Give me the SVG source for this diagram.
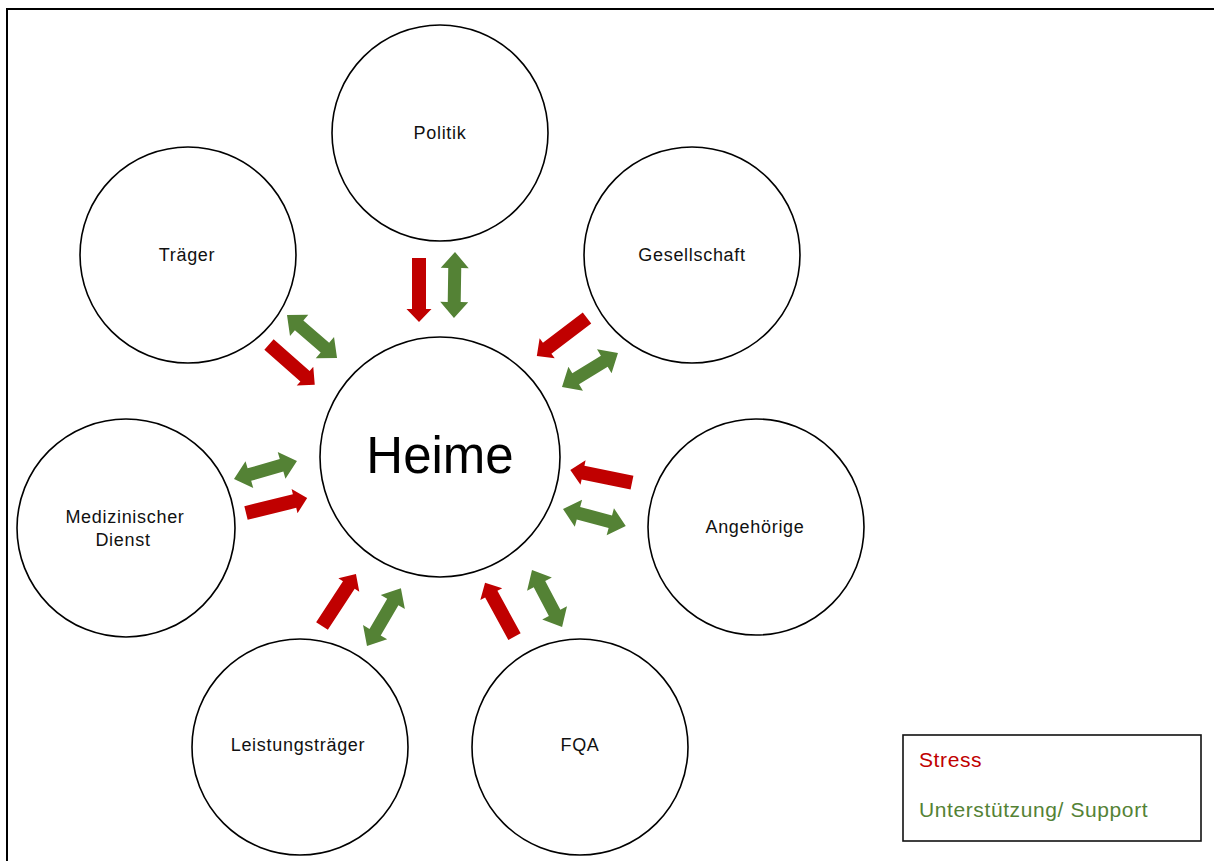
<svg xmlns="http://www.w3.org/2000/svg" width="1214" height="861" viewBox="0 0 1214 861">
<style>
.node{fill:#fff;stroke:#000;stroke-width:1.6}
.lbl{font-family:"Liberation Sans",Arial,sans-serif;font-size:18px;letter-spacing:0.7px;fill:#111;text-anchor:middle}
.big{font-family:"Liberation Sans",Arial,sans-serif;font-size:51px;fill:#000;text-anchor:middle}
.stress{fill:#C00000}
.support{fill:#548235}
.leg{font-family:"Liberation Sans",Arial,sans-serif;font-size:21px;letter-spacing:0.6px}
</style>
<rect x="0" y="0" width="1214" height="861" fill="#fff"/>
<rect x="7" y="9" width="1230" height="880" fill="none" stroke="#000" stroke-width="2"/>

<g id="politik"><circle class="node" cx="440" cy="133" r="108"/><text class="lbl" x="440" y="139">Politik</text></g>
<g id="traeger"><circle class="node" cx="188" cy="255" r="108"/><text class="lbl" x="187" y="261">Träger</text></g>
<g id="gesellschaft"><circle class="node" cx="692" cy="255" r="108"/><text class="lbl" x="692" y="261">Gesellschaft</text></g>
<g id="heime"><circle class="node" cx="440" cy="457" r="120"/><text class="big" x="440" y="473">Heime</text></g>
<g id="medizinischer-dienst"><circle class="node" cx="126" cy="528" r="109"/><text class="lbl" x="125" y="523">Medizinischer</text><text class="lbl" x="123" y="546">Dienst</text></g>
<g id="angehoerige"><circle class="node" cx="756" cy="527" r="108"/><text class="lbl" x="755" y="533">Angehörige</text></g>
<g id="leistungstraeger"><circle class="node" cx="300" cy="747" r="108"/><text class="lbl" x="298" y="751">Leistungsträger</text></g>
<g id="fqa"><circle class="node" cx="580" cy="747" r="108"/><text class="lbl" x="580" y="751">FQA</text></g>

<g id="connectors">
<!-- stress (single arrows) -->
<path class="stress" transform="translate(419,258) rotate(90)" d="M0,-7 H51 V-12.5 L64,0 L51,12.5 V7 H0 Z"/>
<path class="stress" transform="translate(269,344.5) rotate(41.4)" d="M0,-7 H48 V-12.5 L61,0 L48,12.5 V7 H0 Z"/>
<path class="stress" transform="translate(587,318) rotate(142.8)" d="M0,-7 H50 V-12.5 L63,0 L50,12.5 V7 H0 Z"/>
<path class="stress" transform="translate(246,513) rotate(-13.8)" d="M0,-7 H50 V-12.5 L63,0 L50,12.5 V7 H0 Z"/>
<path class="stress" transform="translate(632,482.7) rotate(191.7)" d="M0,-7 H50 V-12.5 L63,0 L50,12.5 V7 H0 Z"/>
<path class="stress" transform="translate(322,626) rotate(-56.8)" d="M0,-7 H49 V-12.5 L62,0 L49,12.5 V7 H0 Z"/>
<path class="stress" transform="translate(514.5,636.7) rotate(241.4)" d="M0,-7 H48.5 V-12.5 L61.5,0 L48.5,12.5 V7 H0 Z"/>
<!-- support (double arrows) -->
<path class="support" transform="translate(455,252) rotate(90.9)" d="M0,0 L16,-14 V-6.5 H50 V-14 L66,0 L50,14 V6.5 H16 V14 Z"/>
<path class="support" transform="translate(287,315) rotate(40.7)" d="M0,0 L16,-14 V-6.5 H50 V-14 L66,0 L50,14 V6.5 H16 V14 Z"/>
<path class="support" transform="translate(562,387) rotate(-31.3)" d="M0,0 L16,-14 V-6.5 H49.5 V-14 L65.5,0 L49.5,14 V6.5 H16 V14 Z"/>
<path class="support" transform="translate(234,479) rotate(-16)" d="M0,0 L16,-14 V-6.5 H49.5 V-14 L65.5,0 L49.5,14 V6.5 H16 V14 Z"/>
<path class="support" transform="translate(563,509) rotate(15.1)" d="M0,0 L16,-14 V-6.5 H49 V-14 L65,0 L49,14 V6.5 H16 V14 Z"/>
<path class="support" transform="translate(367,646) rotate(-59.6)" d="M0,0 L16,-14 V-6.5 H51 V-14 L67,0 L51,14 V6.5 H16 V14 Z"/>
<path class="support" transform="translate(532,570) rotate(62.2)" d="M0,0 L16,-14 V-6.5 H48.5 V-14 L64.5,0 L48.5,14 V6.5 H16 V14 Z"/>
</g>

<g id="legend">
<rect x="903" y="735" width="298" height="106" fill="#fff" stroke="#111" stroke-width="1.6"/>
<text class="leg stress" x="919" y="767">Stress</text>
<text class="leg support" x="919" y="817">Unterstützung/ Support</text>
</g>
</svg>
